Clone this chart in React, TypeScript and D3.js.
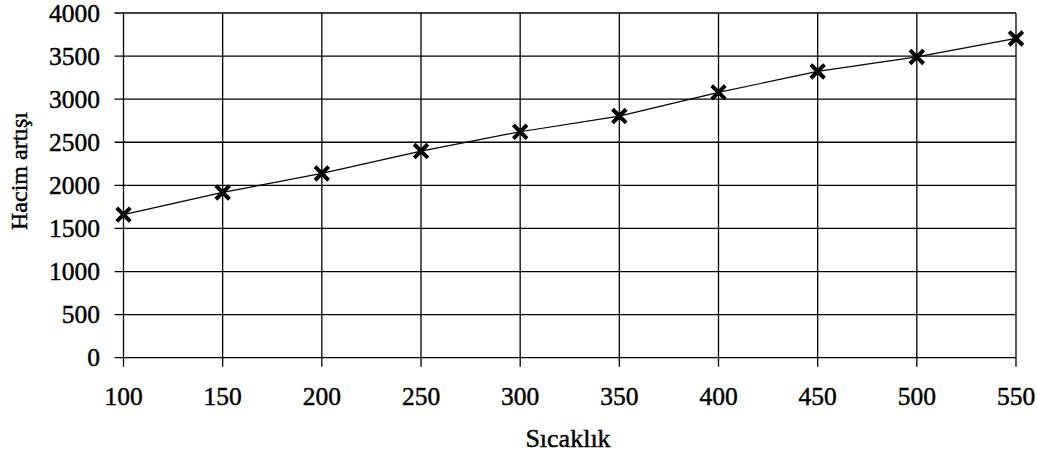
import React from "react";
import * as d3 from "d3";

const temperatures = [100, 150, 200, 250, 300, 350, 400, 450, 500, 550];
const volumeIncrease = [1660, 1918, 2138, 2398, 2622, 2804, 3079, 3322, 3490, 3705];
const yTicks = [0, 500, 1000, 1500, 2000, 2500, 3000, 3500, 4000];
const xTicks = [100, 150, 200, 250, 300, 350, 400, 450, 500, 550];
const xTitle = "Sıcaklık";
const yTitle = "Hacim artışı";

const W = 1037;
const H = 464;
const left = 123.5;
const right = 1016;
const top = 13;
const bottom = 357.7;
const FONT = "'Liberation Serif', 'Times New Roman', serif";

export default function App() {
  const x = d3.scaleLinear().domain([100, 550]).range([left, right]);
  const y = d3.scaleLinear().domain([0, 4000]).range([bottom, top]);
  const line = d3
    .line<number>()
    .x((_, i) => x(temperatures[i]))
    .y((d) => y(d));
  const s = 6.8;
  const textProps = {
    fontFamily: FONT,
    fill: "#000",
    stroke: "#000",
    strokeWidth: 0.45,
  };
  return (
    <svg
      width={W}
      height={H}
      style={{ position: "absolute", left: 0, top: 0, background: "#fff" }}
    >
      <rect width={W} height={H} fill="#fff" />
      {yTicks.map((t) => (
        <line
          key={"h" + t}
          x1={left - 9}
          x2={right}
          y1={y(t)}
          y2={y(t)}
          stroke="#000"
          strokeWidth={1.3}
        />
      ))}
      {xTicks.map((t) => (
        <line
          key={"v" + t}
          x1={x(t)}
          x2={x(t)}
          y1={top}
          y2={bottom + 9}
          stroke="#000"
          strokeWidth={1.3}
        />
      ))}
      {yTicks.map((t) => (
        <text
          key={"yl" + t}
          x={100}
          y={y(t)}
          dy="0.34em"
          textAnchor="end"
          fontSize={25.5}
          {...textProps}
        >
          {t}
        </text>
      ))}
      {xTicks.map((t) => (
        <text
          key={"xl" + t}
          x={x(t)}
          y={405}
          textAnchor="middle"
          fontSize={25.5}
          {...textProps}
        >
          {t}
        </text>
      ))}
      <path d={line(volumeIncrease) || ""} fill="none" stroke="#000" strokeWidth={1.2} />
      {volumeIncrease.map((v, i) => {
        const cx = x(temperatures[i]);
        const cy = y(v);
        return (
          <path
            key={"m" + i}
            d={`M${cx - s},${cy - s}L${cx + s},${cy + s}M${cx - s},${cy + s}L${cx + s},${cy - s}`}
            stroke="#000"
            strokeWidth={4}
            fill="none"
          />
        );
      })}
      <text x={568} y={447} textAnchor="middle" fontSize={26} {...textProps}>
        {xTitle}
      </text>
      <text
        transform={`translate(27,171) rotate(-90)`}
        textAnchor="middle"
        fontSize={24}
        {...textProps}
      >
        {yTitle}
      </text>
    </svg>
  );
}
